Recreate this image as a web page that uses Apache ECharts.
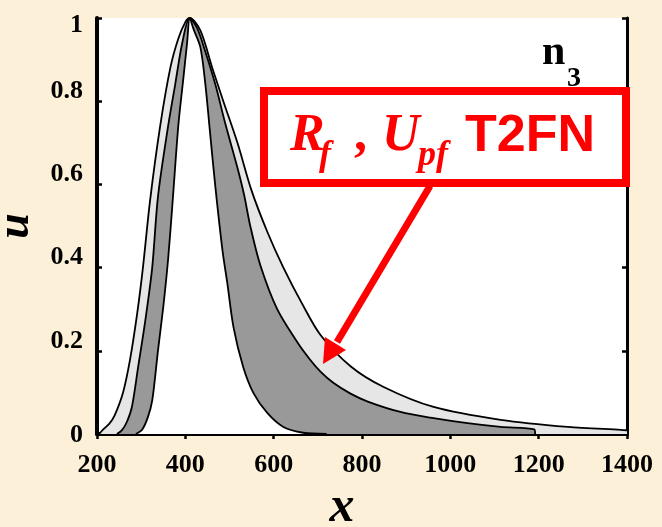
<!DOCTYPE html>
<html>
<head>
<meta charset="utf-8">
<script src="https://cdn.jsdelivr.net/npm/echarts@6/dist/echarts.min.js"></script>
<style>
html,body{margin:0;padding:0;background:#fcf1d8;}
#c{width:662px;height:527px;}
</style>
</head>
<body>
<div id="c"></div>
<script>
// x range and ticks
const xMin = 200, xMax = 1400, xStep = 200;
const yMin = 0, yMax = 1, yStep = 0.2;

// Upper (outer) membership curve [x, u]
const upperMF = [[205,0],[213,0.01],[228,0.025],[240,0.045],[259,0.10],[275,0.18],[291,0.29],[304,0.40],[320,0.56],[343,0.74],[366,0.88],[384,0.95],[400,0.99],[410,1],[434,0.97],[461,0.88],[486,0.80],[518,0.70],[550,0.585],[586,0.485],[622,0.40],[664,0.314],[706,0.238],[774,0.163],[849,0.113],[962,0.065],[1114,0.034],[1266,0.017],[1386,0.01],[1400,0.009]];

// Middle membership curve [x, u]
const middleMF = [[245,0],[257,0.01],[268,0.03],[279,0.065],[293,0.16],[309,0.27],[325,0.40],[338,0.57],[361,0.74],[377,0.84],[393,0.94],[410,1],[427,0.975],[445,0.92],[468,0.84],[490,0.748],[518,0.64],[533,0.575],[547,0.50],[570,0.405],[608,0.30],[654,0.22],[683,0.178],[706,0.15],[735,0.123],[774,0.097],[813,0.078],[887,0.053],[962,0.038],[1039,0.026],[1114,0.017],[1190,0.011],[1192,0]];

// Lower (inner) membership curve [x, u]
const lowerMF = [[288,0],[302,0.01],[315,0.04],[325,0.08],[338,0.20],[350,0.305],[361,0.42],[372,0.57],[384,0.74],[395,0.85],[404,0.94],[410,1],[418,0.975],[434,0.93],[445,0.844],[456,0.724],[468,0.594],[484,0.442],[495,0.363],[509,0.257],[531,0.161],[554,0.099],[586,0.05],[622,0.017],[667,0.003],[720,0]];

const chart = echarts.init(document.getElementById('c'), null, {renderer:'canvas'});

const serif = 'Liberation Serif, Times New Roman, serif';
const sans = 'Liberation Sans, Arial, sans-serif';

function areaSeries(data, color){
  return {type:'line', data:data, xAxisIndex:0, yAxisIndex:0, symbol:'none', smooth:0.3,
    lineStyle:{width:0, opacity:0}, areaStyle:{color:color, opacity:1}, silent:true, z:2};
}
function lineSeries(data){
  return {type:'line', data:data, xAxisIndex:0, yAxisIndex:0, symbol:'none', smooth:0.3,
    lineStyle:{width:1.8, color:'#000'}, silent:true, z:3};
}

const axisCommonX = {type:'value', min:xMin, max:xMax, interval:xStep, splitLine:{show:false}};
const axisCommonY = {type:'value', min:yMin, max:yMax, interval:yStep, splitLine:{show:false}};
const plain = v => String(v);
const yLabelFmt = v => {
  if (v === 1) return '{top|1}';
  if (v === 0) return '{bot|0}';
  return '{mid|' + String(v) + '}';
};
const yLab = {color:'#000', fontFamily:serif, fontWeight:'bold', fontSize:26};

const option = {
  backgroundColor:'#fcf1d8',
  animation:false,
  grid:{left:97, right:35, top:18, bottom:93, containLabel:false, outerBoundsMode:'none', show:true, backgroundColor:'#fff', borderWidth:0},
  xAxis:[
    Object.assign({}, axisCommonX, {position:'bottom',
      axisLine:{show:true, lineStyle:{color:'#000', width:4}},
      axisTick:{show:true, inside:true, length:5, lineStyle:{color:'#000', width:2.5}},
      axisLabel:{color:'#000', fontFamily:serif, fontWeight:'bold', fontSize:26, margin:18, formatter:plain},
      name:'x', nameLocation:'middle', nameGap:47,
      nameTextStyle:{color:'#000', fontFamily:serif, fontStyle:'italic', fontWeight:'bold', fontSize:50, padding:[0,40,0,0]}
    }),
    Object.assign({}, axisCommonX, {position:'top',
      axisLine:{show:true, lineStyle:{color:'#000', width:3}},
      axisTick:{show:true, inside:true, length:5, lineStyle:{color:'#000', width:2.5}},
      axisLabel:{show:false}
    })
  ],
  yAxis:[
    Object.assign({}, axisCommonY, {position:'left',
      axisLine:{show:true, lineStyle:{color:'#000', width:4}},
      axisTick:{show:true, inside:true, length:5, lineStyle:{color:'#000', width:2.5}},
      axisLabel:{margin:14, formatter:yLabelFmt, color:'#000', fontFamily:serif, fontWeight:'bold', fontSize:26,
        rich:{
          top:Object.assign({padding:[14,0,0,0]}, yLab),
          mid:Object.assign({padding:[0,0,20,0]}, yLab),
          bot:Object.assign({padding:[3,0,0,0]}, yLab)
        }},
      name:'u', nameLocation:'middle', nameGap:56,
      nameTextStyle:{color:'#000', fontFamily:serif, fontStyle:'italic', fontWeight:'bold', fontSize:46}
    }),
    Object.assign({}, axisCommonY, {position:'right',
      axisLine:{show:true, lineStyle:{color:'#000', width:3}},
      axisTick:{show:true, inside:true, length:5, lineStyle:{color:'#000', width:2.5}},
      axisLabel:{show:false}
    })
  ],
  series:[
    areaSeries(upperMF, '#e6e6e6'),
    areaSeries(middleMF, '#999999'),
    areaSeries(lowerMF, '#ffffff'),
    lineSeries(upperMF),
    lineSeries(middleMF),
    lineSeries(lowerMF)
  ],
  graphic:[
    {type:'text', z:10, style:{text:'n', x:542, y:53, font:'bold 42px '+serif, fill:'#000', verticalAlign:'middle'}},
    {type:'text', z:10, style:{text:'3', x:567, y:79, font:'bold 28px '+serif, fill:'#000', verticalAlign:'middle'}},
    {type:'rect', z:10, shape:{x:264, y:91, width:362, height:92}, style:{fill:'#fff', stroke:'#ff0000', lineWidth:8}},
    {type:'text', z:11, style:{text:'R', x:290, y:137, font:'italic bold 52px '+serif, fill:'#ff0000', verticalAlign:'middle', shadowColor:'rgba(0,0,0,0.35)', shadowOffsetX:2, shadowOffsetY:2, shadowBlur:2}},
    {type:'text', z:11, style:{text:'f', x:319, y:156, font:'italic bold 36px '+serif, fill:'#ff0000', verticalAlign:'middle', shadowColor:'rgba(0,0,0,0.35)', shadowOffsetX:2, shadowOffsetY:2, shadowBlur:2}},
    {type:'text', z:11, style:{text:',', x:354, y:137, font:'bold 52px '+serif, fill:'#ff0000', verticalAlign:'middle', shadowColor:'rgba(0,0,0,0.35)', shadowOffsetX:2, shadowOffsetY:2, shadowBlur:2}},
    {type:'text', z:11, style:{text:'U', x:382, y:137, font:'italic bold 52px '+serif, fill:'#ff0000', verticalAlign:'middle', shadowColor:'rgba(0,0,0,0.35)', shadowOffsetX:2, shadowOffsetY:2, shadowBlur:2}},
    {type:'text', z:11, style:{text:'pf', x:418, y:156, font:'italic bold 36px '+serif, fill:'#ff0000', verticalAlign:'middle', shadowColor:'rgba(0,0,0,0.35)', shadowOffsetX:2, shadowOffsetY:2, shadowBlur:2}},
    {type:'text', z:11, style:{text:'T2FN', x:465, y:137, font:'bold 52px '+sans, fill:'#ff0000', verticalAlign:'middle', shadowColor:'rgba(0,0,0,0.35)', shadowOffsetX:2, shadowOffsetY:2, shadowBlur:2}},
    {type:'line', z:12, shape:{x1:430, y1:186, x2:337, y2:342}, style:{stroke:'#ff0000', lineWidth:7}},
    {type:'polygon', z:12, shape:{points:[[323,364],[325,337],[346,350]]}, style:{fill:'#ff0000'}}
  ]
};
chart.setOption(option);
</script>
</body>
</html>
